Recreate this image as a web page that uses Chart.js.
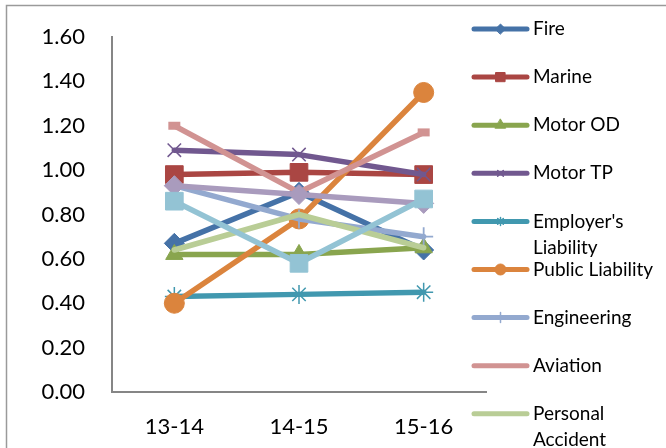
<!DOCTYPE html>
<html>
<head>
<meta charset="utf-8">
<script src="https://cdn.jsdelivr.net/npm/chart.js@4.4.1/dist/chart.umd.min.js"></script>
<style>
    html, body { margin: 0; padding: 0; background: #fff; }
    #wrap { width: 666px; height: 448px; }
</style>
</head>
<body>
<div id="wrap"><canvas id="lossChart" width="666" height="448"></canvas></div>
<script>
// =======================================================
// DATA
// =======================================================
const categories = ["13-14", "14-15", "15-16"];

const seriesNames = [
    "Fire", "Marine", "Motor OD", "Motor TP", "Employer's Liability",
    "Public Liability", "Engineering", "Aviation", "Personal Accident",
    "Health", "Others"
];

const fire        = [0.67, 0.90, 0.64];
const marine      = [0.98, 0.99, 0.98];
const motorOD     = [0.62, 0.62, 0.65];
const motorTP     = [1.09, 1.07, 0.98];
const employers   = [0.43, 0.44, 0.45];
const publicLiab  = [0.40, 0.78, 1.35];
const engineering = [0.93, 0.78, 0.70];
const aviation    = [1.20, 0.90, 1.17];
const personalAcc = [0.64, 0.80, 0.65];
const health      = [0.93, 0.89, 0.85];
const others      = [0.86, 0.58, 0.87];

const yMin = 0, yMax = 1.6, yStep = 0.2;

// =======================================================
// STYLES
// =======================================================
const colors = ["#4572A7", "#AA4643", "#89A54E", "#71588F", "#4198AF",
                "#DB843D", "#93A9CF", "#D19392", "#B9CD96", "#A99BBD", "#93C3D4"];
const markers = ["rectRot", "rect", "triangle", "crossRot", "star",
                 "circle", "cross", "line", false, "rectRot", "rect"];
const markerSize = [10, 12.5, 10, 9.5, 9.5, 10, 9.5, 6, 0, 10, 12.5];
const markerBorder = [1, 1, 1, 1.5, 1.5, 1, 1.8, 8, 1, 1, 1];
const legendMarkerSize = [5, 6.5, 6, 4, 4, 5.5, 5, 0, 0, 5, 6.5];

const values = [fire, marine, motorOD, motorTP, employers, publicLiab,
                engineering, aviation, personalAcc, health, others];

const FONT = "Lato";
const PLOT_TOP = 37;

const datasets = values.map((vals, i) => ({
    label: seriesNames[i],
    data: vals,
    borderColor: colors[i],
    backgroundColor: colors[i],
    borderWidth: 5.5,
    borderCapStyle: "round",
    borderJoinStyle: "round",
    tension: 0,
    pointStyle: markers[i],
    pointRadius: markerSize[i],
    pointHoverRadius: markerSize[i],
    pointBorderWidth: markerBorder[i],
    pointBackgroundColor: colors[i],
    pointBorderColor: colors[i],
    order: values.length - i
}));

// outer frame of the chart object (cut off at right and bottom)
const framePlugin = {
    id: "frame",
    beforeDraw(chart) {
        const ctx = chart.ctx;
        ctx.save();
        ctx.fillStyle = "#fff";
        ctx.fillRect(0, 0, chart.width, chart.height);
        ctx.strokeStyle = "#9a9a9a";
        ctx.lineWidth = 1.5;
        ctx.strokeRect(6.5, 5.5, 800, 600);
        ctx.restore();
    }
};

// excel style legend: line sample with marker in the middle
const legendPlugin = {
    id: "excelLegend",
    afterDraw(chart) {
        const ctx = chart.ctx;
        ctx.save();
        ctx.font = `19px ${FONT}`;
        ctx.textBaseline = "middle";
        chart.data.datasets.forEach((ds, i) => {
            const y = 29 + i * 48.1;
            ctx.strokeStyle = ds.borderColor;
            ctx.fillStyle = ds.borderColor;
            ctx.lineWidth = 5;
            ctx.lineCap = "round";
            ctx.beginPath();
            ctx.moveTo(474, y);
            ctx.lineTo(527, y);
            ctx.stroke();
            if (ds.pointStyle && legendMarkerSize[i] > 0) {
                ctx.lineWidth = Math.min(ds.pointBorderWidth, 1.5);
                Chart.helpers.drawPoint(ctx, {
                    pointStyle: ds.pointStyle,
                    rotation: 0,
                    radius: legendMarkerSize[i],
                    borderWidth: Math.min(ds.pointBorderWidth, 1.5)
                }, 500.5, y);
            }
            // wrap text
            ctx.fillStyle = "#000";
            const words = ds.label.split(" ");
            let lines = [], cur = "";
            words.forEach(w => {
                const t = cur ? cur + " " + w : w;
                if (ctx.measureText(t).width > 128 && cur) {
                    lines.push(cur);
                    cur = w;
                } else cur = t;
            });
            lines.push(cur);
            lines.forEach((ln, k) => ctx.fillText(ln, 533, y + k * 26));
        });
        ctx.restore();
    }
};

new Chart(document.getElementById("lossChart"), {
    type: "line",
    data: { labels: categories, datasets: datasets },
    options: {
        responsive: false,
        animation: false,
        devicePixelRatio: 1,
        layout: { padding: { left: 0, top: 0, right: 180, bottom: 0 } },
        plugins: {
            legend: { display: false },
            tooltip: { enabled: false }
        },
        scales: {
            x: {
                type: "category",
                offset: true,
                grid: { display: false, drawTicks: false },
                border: { display: true, color: "#868686", width: 2 },
                ticks: { color: "#000", font: { family: FONT, size: 22 }, padding: 22 },
                afterFit: s => { s.height = 56; }
            },
            y: {
                min: yMin,
                max: yMax,
                grid: { display: false, drawTicks: false },
                border: { display: true, color: "#868686", width: 2 },
                ticks: {
                    stepSize: yStep,
                    color: "#000",
                    font: { family: FONT, size: 22 },
                    padding: 27,
                    callback: v => Number(v).toFixed(2)
                },
                afterFit: s => { s.width = 112; s.paddingTop = PLOT_TOP; }
            }
        }
    },
    plugins: [framePlugin, legendPlugin]
});
</script>
</body>
</html>
